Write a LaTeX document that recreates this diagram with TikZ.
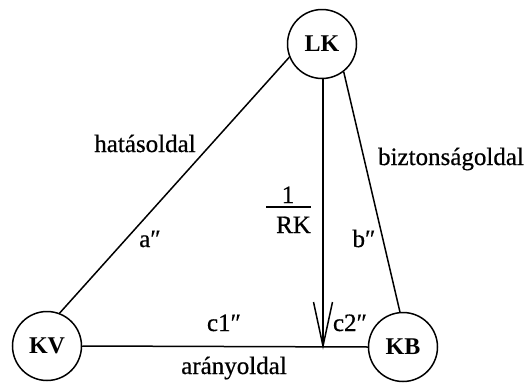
\documentclass[tikz,border=0pt]{standalone}
\usepackage{fontspec}
\setmainfont{Liberation Serif}
\newfontfamily\labfont{Liberation Serif}[FakeBold=0.6]
\begin{document}
\begin{tikzpicture}[x=1pt,y=-1pt,
  vertex/.style={circle,draw,line width=1.5pt,minimum size=69pt,inner sep=0pt,font=\fontsize{24}{28}\selectfont\bfseries},
  lbl/.style={anchor=base,inner sep=0pt,font=\labfont\fontsize{25}{29}\selectfont},
  edge/.style={line width=1.5pt}]
\useasboundingbox (0,0) rectangle (528,383);
\node[vertex] (LK) at (322,44) {LK};
\node[vertex] (KV) at (47,346) {KV};
\node[vertex] (KB) at (403,347) {KB};
\coordinate (tip) at (323,346);
\draw[edge] (LK.202) -- (KV.69);
\draw[edge] (LK.-52) -- (KB.95);
\draw[edge] (KV.east) -- (KB.west);
\draw[edge] (LK.south -| tip) -- (tip);
\coordinate (bl) at (313.5,302);
\coordinate (br) at (332.5,302);
\draw[edge,line join=miter] (bl) -- (tip) -- (br);
\node[lbl] (hat) at (145,152) {hatásoldal};
\node[lbl] (biz) at (451,165) {biztonságoldal};
\node[lbl] (a) at (150,247) {a″};
\node[lbl] (b) at (364,247) {b″};
\node[lbl] (one) at (288,203) {1};
\node[lbl] (rk) at (293.5,233) {RK};
\coordinate (fl) at (266,207);
\coordinate (fr) at (311,207);
\draw[line width=1.2pt] (fl) -- (fr);
\node[lbl] (c1) at (224,331) {c1″};
\node[lbl] (c2) at (350,331) {c2″};
\node[lbl] (ar) at (234,374) {arányoldal};
\end{tikzpicture}
\end{document}
